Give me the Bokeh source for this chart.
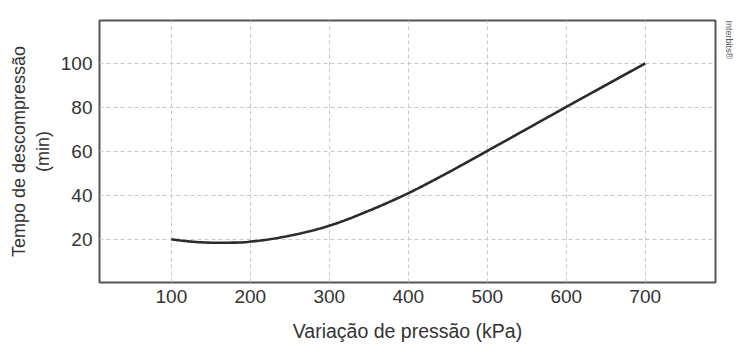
import numpy as np
from bokeh.plotting import figure
from bokeh.models import Range1d, FixedTicker, Title
from bokeh.embed import file_html
from bokeh.resources import INLINE

pressure = [100, 125, 150, 175, 200, 250, 300, 350, 400, 450, 500, 550, 600, 650, 700]
time_min = [20, 19.0, 18.5, 18.5, 19.0, 21.7, 26.2, 33.0, 41.0, 50.3, 60.2, 70.2, 80.2, 90.1, 100]
x_ticks = [100, 200, 300, 400, 500, 600, 700]
y_ticks = [20, 40, 60, 80, 100]

xs = np.array(pressure, dtype=float)
ys = np.array(time_min, dtype=float)
xf = np.linspace(xs[0], xs[-1], 300)

def catmull(x, y, xq):
    out = []
    n = len(x)
    for q in xq:
        i = min(max(np.searchsorted(x, q) - 1, 0), n - 2)
        x0, x1 = x[i], x[i + 1]
        t = (q - x0) / (x1 - x0)
        p0 = y[i - 1] if i > 0 else 2 * y[i] - y[i + 1]
        p1 = y[i]
        p2 = y[i + 1]
        p3 = y[i + 2] if i + 2 < n else 2 * y[i + 1] - y[i]
        out.append(0.5 * ((2 * p1) + (-p0 + p2) * t + (2 * p0 - 5 * p1 + 4 * p2 - p3) * t * t
                          + (-p0 + 3 * p1 - 3 * p2 + p3) * t ** 3))
    return np.array(out)
yf = catmull(xs, ys, xf)

FONT = "Liberation Sans"
p = figure(width=739, height=359, output_backend="svg", toolbar_location=None,
           x_range=Range1d(9, 789), y_range=Range1d(0.4, 119.5),
           min_border_left=99, min_border_right=24, min_border_top=20, min_border_bottom=77)

p.line(xf, yf, line_color="#2b2b2b", line_width=2.6)

p.outline_line_color = "#555555"
p.outline_line_width = 2
p.background_fill_color = "white"
p.border_fill_color = "white"

for ax in (p.xaxis[0], p.yaxis[0]):
    ax.axis_line_color = None
    ax.major_tick_line_color = None
    ax.minor_tick_line_color = None
    ax.major_tick_out = 0
    ax.major_tick_in = 0
    ax.major_label_text_font = FONT
    ax.major_label_text_font_size = "19px"
    ax.major_label_text_color = "#333333"
    ax.axis_label_text_font = FONT
    ax.axis_label_text_font_size = "18px"
    ax.axis_label_text_font_style = "normal"
    ax.axis_label_text_color = "#333333"

p.xaxis.ticker = FixedTicker(ticks=x_ticks)
p.yaxis.ticker = FixedTicker(ticks=y_ticks)
p.xaxis.major_label_standoff = 7
p.yaxis.major_label_standoff = 7
p.xaxis.axis_label = "Variação de pressão (kPa)"
p.xaxis.axis_label_standoff = 14
p.yaxis.axis_label = "Tempo de descompressão\n(min)"
p.yaxis.axis_label_standoff = 5
p.xaxis.axis_label_text_font_size = "19.5px"

p.xgrid.grid_line_color = "#c8c8c8"
p.ygrid.grid_line_color = "#c8c8c8"
p.xgrid.grid_line_dash = "4 3"
p.ygrid.grid_line_dash = "4 3"
p.xgrid.grid_line_width = 1
p.ygrid.grid_line_width = 1

spacer = Title(text=" ", text_font=FONT, text_font_size="6px", offset=0, standoff=0)
p.add_layout(spacer, "right")
credit = Title(text="Interbits®", align="left", text_font=FONT, text_font_size="9px",
               text_font_style="normal", text_color="#555555", offset=0, standoff=0)
p.add_layout(credit, "right")

open("out.html", "w").write(file_html(p, INLINE))
